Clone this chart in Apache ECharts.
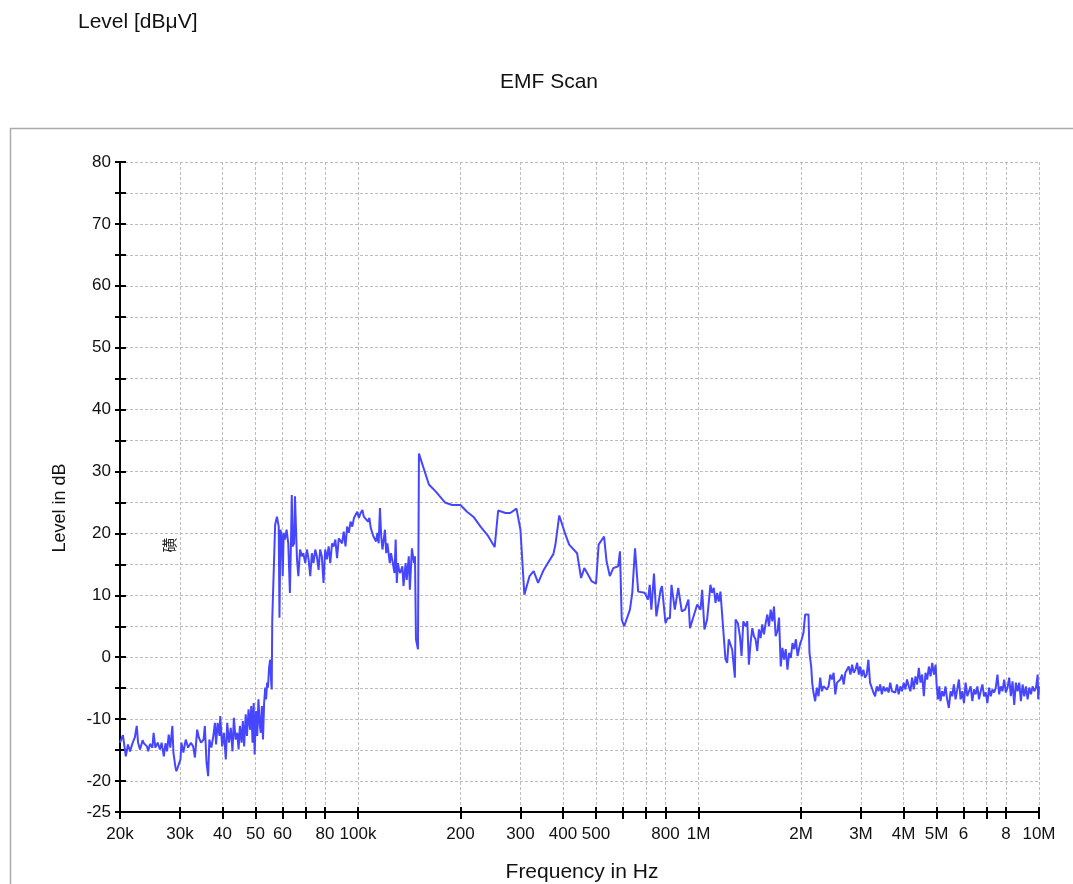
<!DOCTYPE html>
<html>
<head>
<meta charset="utf-8">
<title>EMF Scan</title>
<script src="https://cdn.jsdelivr.net/npm/echarts@6/dist/echarts.min.js"></script>
<style>
  html, body { margin: 0; padding: 0; background: #fff; }
  #emfScan { width: 1073px; height: 884px; }
</style>
</head>
<body>
<div id="emfScan"></div>
<script>
// scan frequencies in kHz
const freqKHz = [
  20.0, 20.4, 20.8, 21.1, 21.4, 21.8, 22.1, 22.4, 22.6, 22.9,
  23.3, 23.5, 24.0, 24.2, 24.5, 24.9, 25.1, 25.4, 25.8, 26.2,
  26.5, 26.9, 27.2, 27.5, 27.8, 28.1, 28.5, 28.7, 29.1, 29.3,
  30.1, 30.3, 30.7, 31.0, 31.2, 31.7, 32.3, 32.8, 33.2, 33.7,
  34.1, 34.6, 35.2, 35.5, 35.9, 36.3, 36.6, 37.1, 37.6, 38.0,
  38.3, 38.7, 39.2, 39.4, 39.9, 40.4, 40.9, 41.3, 41.8, 42.3,
  42.8, 43.2, 43.7, 44.2, 44.6, 45.0, 45.5, 45.9, 46.3, 46.8,
  47.2, 47.7, 48.2, 48.6, 49.0, 49.4, 49.7, 50.2, 50.6, 51.0,
  51.5, 51.8, 52.2, 52.6, 53.0, 53.4, 53.7, 54.1, 54.4, 54.8,
  55.2, 55.6, 55.8, 56.0, 56.5, 57.1, 57.8, 58.1, 58.5, 58.8,
  59.2, 59.7, 60.1, 60.5, 61.0, 61.7, 62.4, 63.1, 63.6, 63.9,
  64.3, 64.9, 65.3, 65.8, 66.2, 66.8, 67.6, 68.4, 69.1, 70.0,
  70.8, 71.6, 72.4, 73.2, 74.0, 74.9, 75.7, 76.6, 77.4, 78.3,
  79.2, 80.1, 81.0, 82.0, 82.9, 83.9, 84.8, 85.8, 86.8, 87.8,
  88.8, 89.8, 90.8, 91.9, 92.9, 94.0, 95.1, 96.2, 97.3, 98.4,
  99.5, 100.6, 101.8, 103, 104, 105, 107, 108, 109, 110,
  111, 113, 114, 115, 116, 117, 118, 120, 121, 122,
  124, 125, 126, 128, 129, 130, 131, 132, 133, 135,
  136, 138, 139, 141, 142, 144, 146, 147, 148, 150, 151,
  161.5, 169, 180, 189, 200, 209, 219, 229, 241, 252,
  258, 271, 280, 292, 300, 308, 319, 328, 338, 351,
  375, 380, 390, 405, 417, 440, 452, 462, 471, 485,
  500, 509, 528, 537, 549, 562, 581, 588, 595, 605,
  629, 639, 651, 665, 695, 711, 719, 727, 740, 752,
  762, 774, 781, 800, 811, 824, 833, 852, 872, 893,
  913, 934, 944, 955, 977, 991, 1014, 1025, 1041, 1060,
  1084, 1096, 1109, 1122, 1134, 1147, 1160, 1182, 1200, 1214,
  1227, 1256, 1279, 1285, 1305, 1323, 1338, 1354, 1375, 1391,
  1406, 1422, 1439, 1455, 1471, 1488, 1505, 1522, 1539, 1557,
  1575, 1593, 1611, 1629, 1648, 1666, 1685, 1705, 1724, 1744,
  1764, 1784, 1804, 1825, 1846, 1867, 1888, 1910, 1932, 1954,
  1976, 1990, 2010, 2033, 2057, 2080, 2104, 2118, 2143, 2157,
  2176, 2201, 2226, 2252, 2277, 2303, 2329, 2356, 2383, 2410,
  2438, 2466, 2494, 2522, 2551, 2580, 2610, 2640, 2670, 2700,
  2731, 2762, 2794, 2826, 2858, 2891, 2924, 2957, 2985, 3014,
  3049, 3083, 3119, 3154, 3190, 3227, 3264, 3301, 3339, 3377,
  3416, 3455, 3494, 3534, 3575, 3616, 3657, 3699, 3741, 3784,
  3827, 3871, 3915, 3960, 4005, 4051, 4097, 4144, 4191, 4239,
  4288, 4337, 4386, 4436, 4487, 4538, 4590, 4642, 4695, 4749,
  4803, 4858, 4914, 4970, 5004, 5049, 5097, 5136, 5195, 5254,
  5314, 5374, 5436, 5498, 5561, 5624, 5688, 5753, 5818, 5885,
  5952, 6020, 6088, 6158, 6228, 6299, 6371, 6443, 6517, 6591,
  6666, 6742, 6819, 6896, 6975, 7054, 7135, 7216, 7298, 7382,
  7466, 7551, 7637, 7724, 7812, 7901, 7991, 8082, 8174, 8267,
  8361, 8457, 8553, 8650, 8749, 8849, 8949, 9051, 9155, 9259,
  9365, 9471, 9579, 9688, 9799, 9911, 9946, 9990, 10000
];

// measured level in dB
const levelDb = [
  -13.8, -12.6, -16.0, -14.1, -15.2, -13.8, -13.0, -11.1, -13.8, -14.9,
  -13.4, -13.9, -14.4, -15.2, -14.0, -14.6, -12.2, -14.6, -13.8, -14.9,
  -13.8, -16.0, -13.9, -15.2, -12.5, -14.6, -11.1, -15.4, -17.8, -18.4,
  -16.5, -13.8, -15.4, -14.1, -13.3, -14.6, -13.8, -14.4, -16.2, -11.7,
  -13.0, -13.8, -13.3, -11.1, -17.0, -19.2, -13.3, -14.6, -12.7, -10.6,
  -14.1, -10.6, -12.7, -9.5, -14.4, -12.2, -16.5, -10.6, -13.8, -11.4,
  -15.2, -9.8, -13.3, -12.2, -14.9, -11.1, -13.8, -10.3, -14.4, -9.2,
  -12.7, -8.4, -11.7, -7.9, -13.8, -7.4, -15.7, -8.7, -12.7, -6.8,
  -11.1, -12.2, -7.9, -13.3, -7.4, -4.9, -6.8, -4.1, -4.9, -1.7,
  -0.4, -4.1, -5.2, 6.1, 13.1, 21.4, 22.7, 23.0, 21.1, 6.4,
  20.6, 19.5, 13.1, 20.1, 19.0, 20.6, 18.4, 10.4, 19.5, 26.2,
  17.9, 18.4, 26.0, 26.0, 15.8, 13.1, 17.4, 16.3, 16.8, 15.2,
  17.4, 15.8, 13.1, 16.8, 15.2, 17.4, 16.3, 14.1, 17.4, 16.3,
  12.0, 17.4, 15.8, 17.9, 15.2, 18.4, 17.9, 19.0, 16.0, 19.2,
  19.5, 18.4, 20.3, 17.9, 21.1, 20.1, 21.9, 21.1, 22.5, 22.2,
  23.5, 22.5, 23.3, 23.8, 22.7, 23.0, 21.9, 22.5, 20.9, 20.6,
  19.5, 18.7, 20.1, 18.4, 24.1, 19.5, 17.4, 20.6, 16.8, 18.4,
  15.2, 16.8, 15.8, 13.6, 19.0, 12.0, 15.2, 14.1, 13.6, 14.7,
  11.5, 15.2, 12.5, 16.3, 10.9, 17.6, 15.2, 16.3, 2.9, 1.3, 32.9,
  27.9, 26.8, 25.0, 24.6, 24.6, 23.5, 22.6, 21.1, 19.6, 17.8,
  23.7, 23.3, 23.3, 24.0, 20.6, 10.1, 13.1, 13.9, 12.0, 14.1,
  16.7, 18.2, 22.9, 20.1, 18.2, 16.8, 12.8, 14.4, 13.6, 12.3,
  11.9, 18.2, 19.5, 15.5, 13.1, 14.4, 14.7, 17.1, 6.1, 5.0,
  7.7, 10.4, 17.6, 10.6, 10.4, 9.3, 11.7, 7.7, 13.5, 6.6,
  6.4, 10.9, 11.5, 5.5, 6.3, 6.3, 11.7, 7.7, 11.2, 7.4,
  7.7, 9.3, 4.7, 4.5, 7.4, 8.5, 7.7, 10.9, 4.5, 6.1,
  11.7, 10.4, 11.2, 8.8, 10.4, 9.0, 10.6, 4.5, -0.3, -0.9,
  2.9, 1.2, -3.3, 6.1, 5.5, 3.4, 0.2, 5.8, 5.0, 5.8,
  -1.2, 2.3, 4.7, 3.4, 2.9, 1.0, 4.5, 3.1, 5.3, 3.7,
  5.5, 6.9, 5.0, 7.7, 5.8, 8.2, 3.4, 4.2, 6.4, -1.5,
  1.5, -0.4, 1.3, -2.0, 0.7, -0.1, 2.3, 1.3, 2.9, 0.2,
  1.5, 2.3, 2.9, 3.9, 6.9, 6.6, 6.9, 0.7, -1.5, -4.1,
  -5.7, -7.1, -4.9, -6.3, -3.3, -5.5, -4.7, -4.4, -5.2, -4.7,
  -2.8, -3.6, -2.5, -6.0, -4.1, -4.1, -3.6, -2.8, -4.4, -2.5,
  -2.8, -1.5, -2.8, -1.2, -2.5, -2.0, -0.9, -2.8, -1.5, -3.1,
  -2.0, -3.3, -2.8, -0.4, -4.1, -4.4, -5.7, -6.3, -4.7, -5.5,
  -4.4, -6.0, -4.7, -5.5, -4.9, -5.7, -4.1, -5.5, -5.2, -5.7,
  -4.4, -6.0, -4.7, -5.5, -4.1, -5.2, -3.6, -4.7, -5.5, -3.3,
  -5.2, -3.1, -4.4, -1.7, -4.1, -2.8, -6.3, -2.5, -3.6, -1.5,
  -3.1, -0.9, -2.8, -1.2, -4.4, -6.8, -4.7, -7.1, -5.5, -6.3,
  -4.7, -6.8, -8.2, -5.5, -6.3, -4.4, -6.8, -5.2, -3.6, -6.8,
  -5.5, -7.4, -4.1, -6.3, -5.5, -4.7, -7.1, -5.2, -6.0, -4.7,
  -6.8, -5.5, -4.4, -6.3, -5.7, -7.4, -4.9, -6.3, -5.2, -5.7,
  -4.9, -2.8, -6.0, -4.7, -5.5, -3.6, -5.7, -4.9, -3.3, -6.3,
  -3.9, -7.7, -4.1, -5.5, -4.1, -7.1, -4.4, -6.3, -4.7, -6.8,
  -4.9, -6.0, -4.7, -5.5, -4.9, -2.8, -6.8, -5.5, -4.7
];

// x axis ticks (Hz) and which of them carry a label
const tickFreqs = [20e3, 30e3, 40e3, 50e3, 60e3, 70e3, 80e3, 100e3,
  200e3, 300e3, 400e3, 500e3, 600e3, 700e3, 800e3, 1e6,
  2e6, 3e6, 4e6, 5e6, 6e6, 7e6, 8e6, 10e6];
const labelFreqs = [20e3, 30e3, 40e3, 50e3, 60e3, 80e3, 100e3,
  200e3, 300e3, 400e3, 500e3, 800e3, 1e6,
  2e6, 3e6, 4e6, 5e6, 6e6, 8e6, 10e6];
const labelTexts = ['20k', '30k', '40', '50', '60', '80', '100k',
  '200', '300', '400', '500', '800', '1M',
  '2M', '3M', '4M', '5M', '6', '8', '10M'];

const lg = Math.log10;
const xMin = lg(20e3), xMax = lg(10e6);
const seriesData = freqKHz.map((f, i) => [lg(f * 1000), levelDb[i]]);

function freqLabel(v) {
  const i = labelFreqs.findIndex(f => Math.abs(lg(f) - v) < 1e-6);
  return i < 0 ? '' : labelTexts[i];
}

const fontName = '"Liberation Sans", Arial, sans-serif';
const black = { color: '#000', width: 2 };
const dashed = { show: true, lineStyle: { color: '#bdbdbd', width: 1, type: [3, 2] } };

const chart = echarts.init(document.getElementById('emfScan'));
chart.setOption({
  animation: false,
  textStyle: { fontFamily: fontName },
  grid: { left: 120, right: 34, top: 162, bottom: 72 },
  graphic: [
    { type: 'rect', silent: true, z: -10,
      shape: { x: 10.5, y: 128.5, width: 1100, height: 800 },
      style: { fill: 'none', stroke: '#aaaaaa', lineWidth: 1.5 } },
    { type: 'text', x: 78, y: 22,
      style: { text: 'Level [dBμV]', font: '21px ' + fontName, fill: '#111',
               align: 'left', verticalAlign: 'middle', textAlign: 'left', textVerticalAlign: 'middle' } },
    { type: 'text', x: 549, y: 82,
      style: { text: 'EMF Scan', font: '21px ' + fontName, fill: '#111',
               align: 'center', verticalAlign: 'middle', textAlign: 'center', textVerticalAlign: 'middle' } },
    { type: 'text', x: 60, y: 508, rotation: Math.PI / 2,
      style: { text: 'Level in dB', font: '18px ' + fontName, fill: '#111',
               align: 'center', verticalAlign: 'middle', textAlign: 'center', textVerticalAlign: 'middle' } },
    { type: 'text', x: 582, y: 872,
      style: { text: 'Frequency in Hz', font: '21px ' + fontName, fill: '#111',
               align: 'center', verticalAlign: 'middle', textAlign: 'center', textVerticalAlign: 'middle' } },
    { type: 'text', x: 169, y: 545, rotation: Math.PI / 2,
      style: { text: '磺', font: '15px "Noto Sans CJK SC"', fill: '#222',
               align: 'center', verticalAlign: 'middle', textAlign: 'center', textVerticalAlign: 'middle' } }
  ],
  xAxis: [
    {
      type: 'value', min: xMin, max: xMax, position: 'bottom',
      axisLine: { onZero: false, lineStyle: black },
      axisTick: { customValues: tickFreqs.map(lg), length: 7, lineStyle: black },
      axisLabel: { customValues: labelFreqs.map(lg), formatter: freqLabel,
                   fontSize: 17, color: '#111', margin: 14 },
      splitLine: dashed
    },
    {
      type: 'value', min: xMin, max: xMax, position: 'bottom',
      axisLine: { show: false, onZero: false },
      axisTick: { customValues: tickFreqs.map(lg), inside: true, length: 5, lineStyle: black },
      axisLabel: { show: false },
      splitLine: { show: false }
    }
  ],
  yAxis: [
    {
      type: 'value', min: -25, max: 80, interval: 5, position: 'left',
      axisLine: { show: true, onZero: false, lineStyle: black },
      axisTick: { show: true, length: 5, lineStyle: black },
      axisLabel: { fontSize: 17, color: '#111', margin: 9,
                   formatter: v => (v % 10 === 0 || v === -25) ? String(v) : '' },
      splitLine: dashed
    },
    {
      type: 'value', min: -25, max: 80, interval: 5, position: 'left',
      axisLine: { show: false, onZero: false },
      axisTick: { show: true, inside: true, length: 6, lineStyle: black },
      axisLabel: { show: false },
      splitLine: { show: false }
    }
  ],
  series: [
    {
      type: 'line',
      data: seriesData,
      showSymbol: false,
      silent: true,
      lineStyle: { color: '#4646ff', width: 2 },
      xAxisIndex: 0,
      yAxisIndex: 0
    }
  ]
});
window.addEventListener('resize', chart.resize);
</script>
</body>
</html>
